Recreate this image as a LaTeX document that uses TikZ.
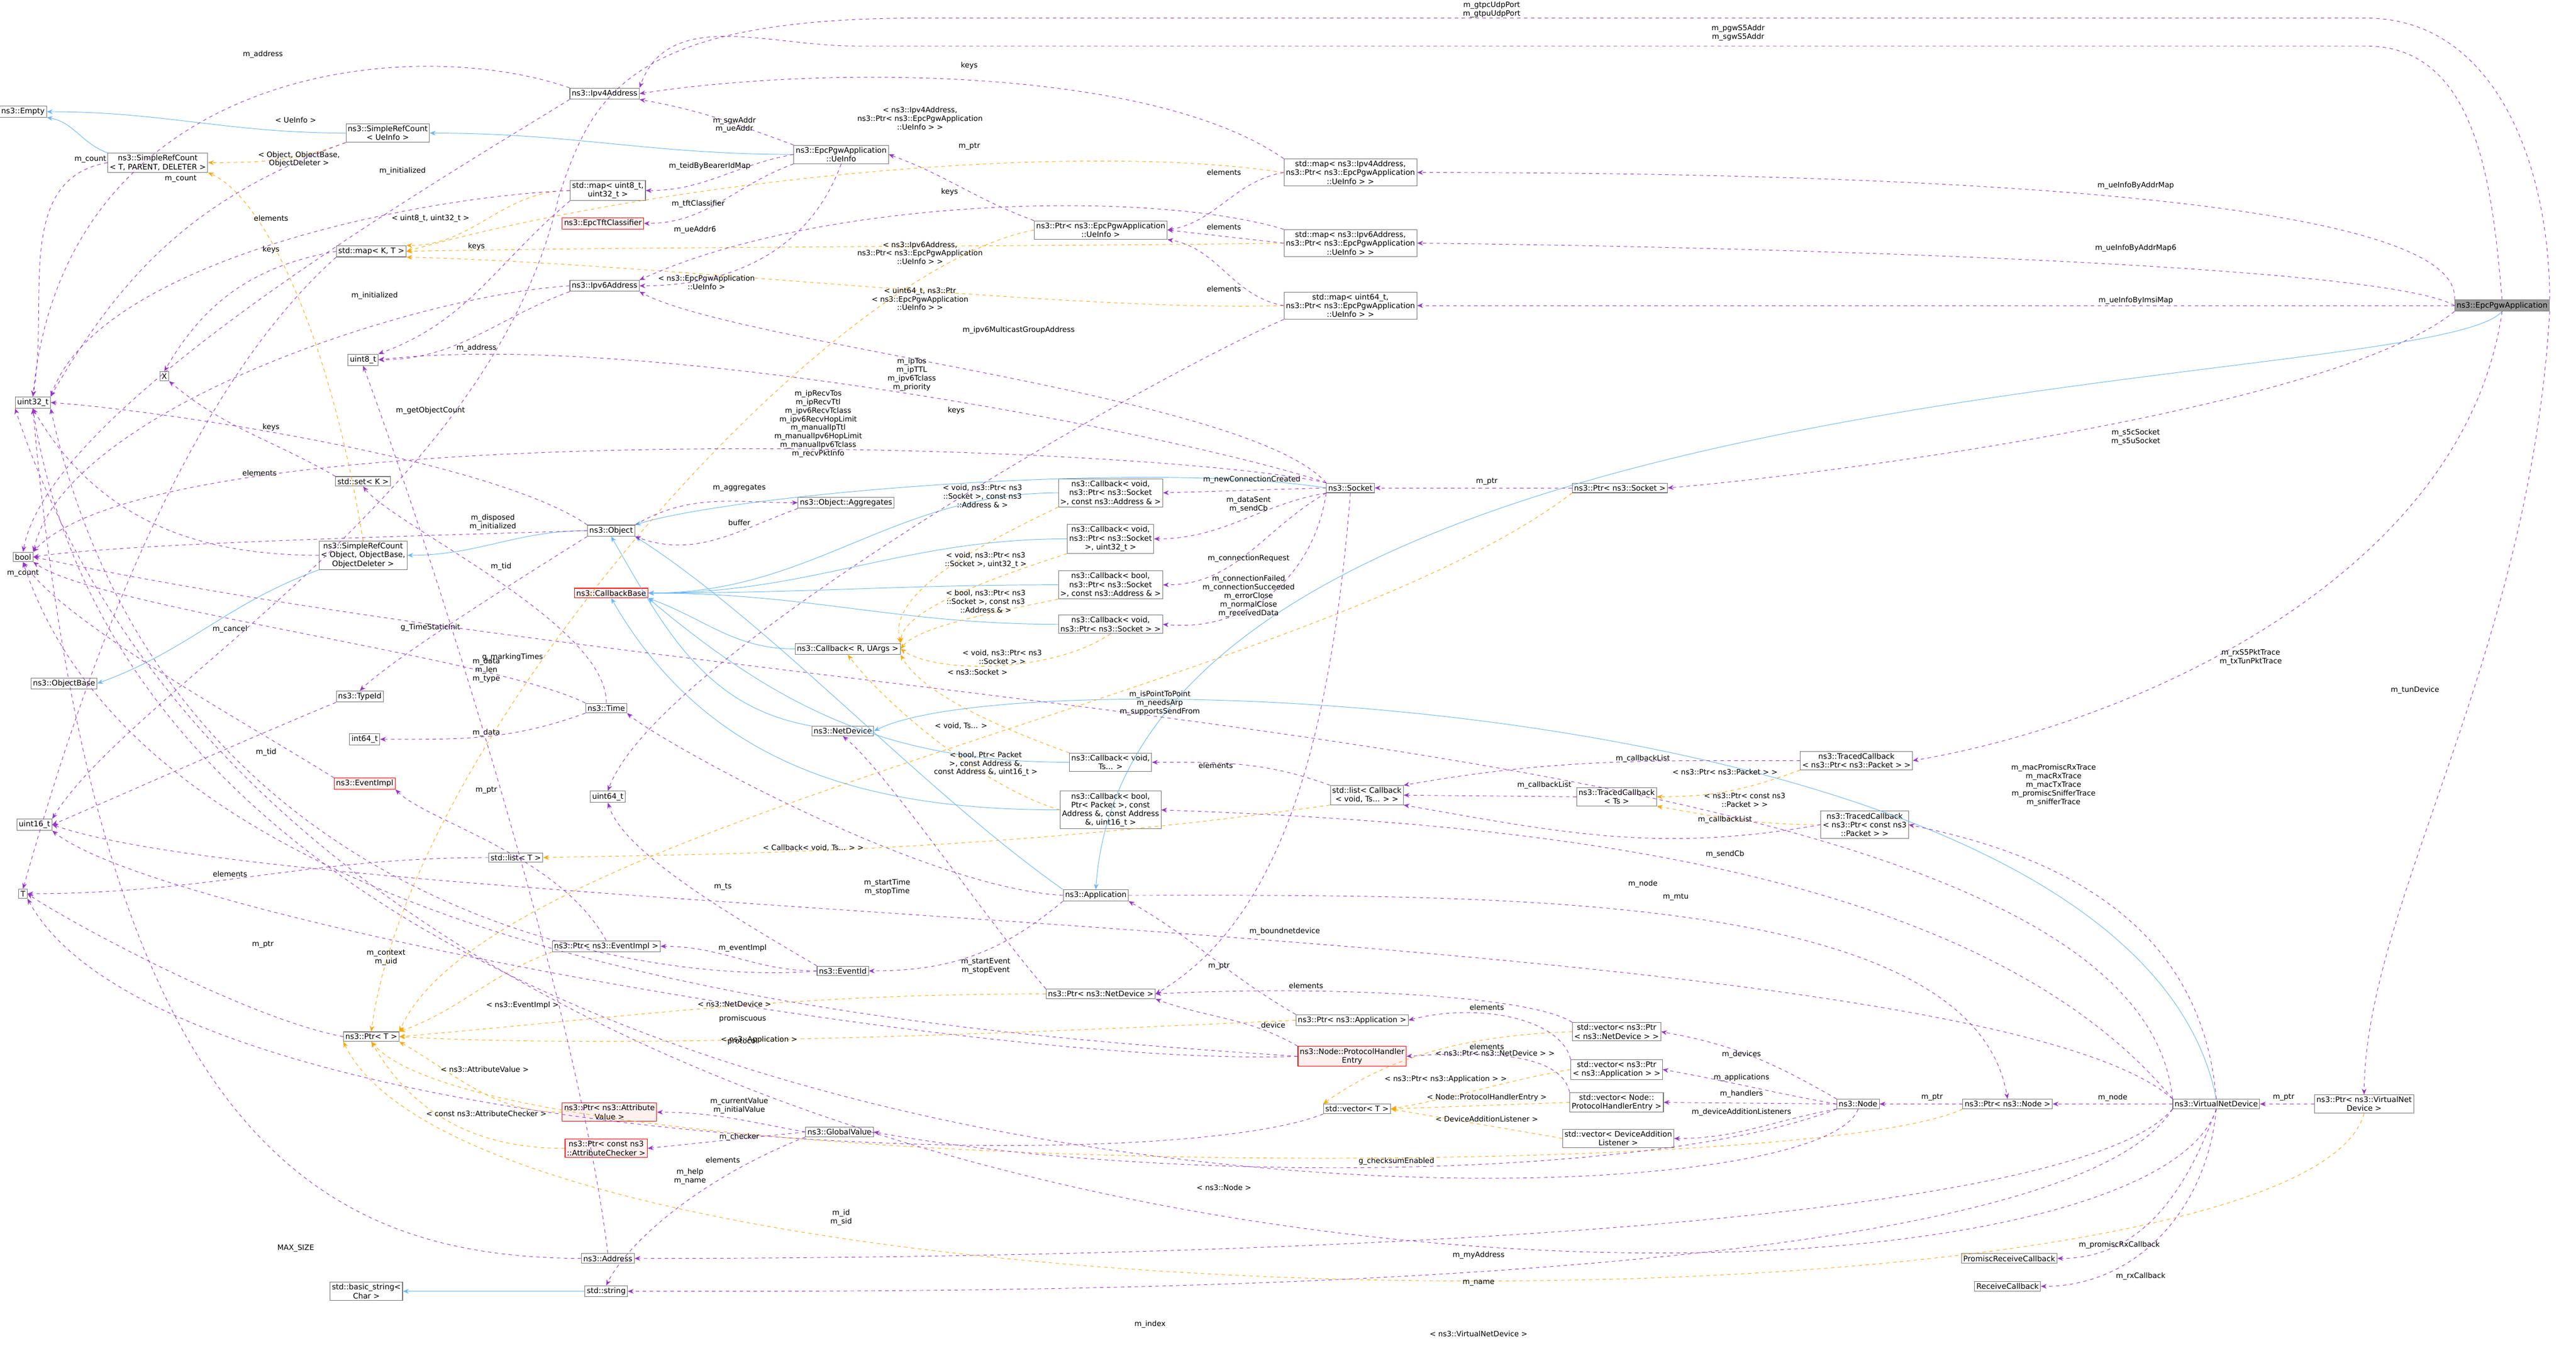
\documentclass[tikz,border=0pt]{standalone}
\usepackage{fontspec}
\setmainfont{DejaVu Sans}
\usetikzlibrary{arrows.meta}
\definecolor{pu}{HTML}{9A32CD}
\definecolor{bl}{HTML}{63B8FF}
\definecolor{or}{HTML}{FFA500}
\tikzset{
 b/.style={draw=black!55,fill=white,inner sep=1.6pt,align=center,font=\fontsize{6.6}{7.6}\selectfont,line width=0.5pt},
 rb/.style={b,draw=red,fill=red!6},
 gb/.style={b,fill=black!40},
 lbl/.style={font=\fontsize{6.4}{7.4}\selectfont,align=center,inner sep=0pt},
 tip/.style={-{Stealth[length=5pt,width=4pt]}},
 use/.style={tip,pu,dashed,line width=0.45pt},
 inh/.style={tip,bl,line width=0.45pt},
 tpl/.style={tip,or,dashed,line width=0.45pt},
}
\begin{document}
\begin{tikzpicture}[x=0.05cm,y=-0.05cm]
\useasboundingbox (0,0) rectangle (1568,819);
% nodes
\node[gb] (pgw) at (1523,186) {ns3::EpcPgwApplication};
\node[b] (empty) at (14,68) {ns3::Empty};
\node[b] (srcT) at (96,99) {ns3::SimpleRefCount\\< T, PARENT, DELETER >};
\node[b] (srcU) at (236,81) {ns3::SimpleRefCount\\< UeInfo >};
\node[b] (ipv4) at (368,57) {ns3::Ipv4Address};
\node[b] (ueinfo) at (512,94) {ns3::EpcPgwApplication\\::UeInfo};
\node[b] (mapu8) at (370,116) {std::map< uint8\_t,\\ uint32\_t >};
\node[rb] (tft) at (367,136) {ns3::EpcTftClassifier};
\node[b] (mapKT) at (226,153) {std::map< K, T >};
\node[b] (ipv6) at (368,174) {ns3::Ipv6Address};
\node[b] (u8) at (221,219) {uint8\_t};
\node[b] (nX) at (100,229) {X};
\node[b] (u32) at (20,245) {uint32\_t};
\node[b] (setK) at (221,293) {std::set< K >};
\node[b] (bool) at (14,339) {bool};
\node[b] (srcO) at (221,338) {ns3::SimpleRefCount\\< Object, ObjectBase,\\ ObjectDeleter >};
\node[b] (obase) at (39,416) {ns3::ObjectBase};
\node[b] (typeid) at (219,424) {ns3::TypeId};
\node[b] (i64) at (222,450) {int64\_t};
\node[rb] (evimpl) at (222,477) {ns3::EventImpl};
\node[b] (u16) at (21,502) {uint16\_t};
\node[b] (nT) at (14,544) {T};
\node[b] (object) at (372,323) {ns3::Object};
\node[b] (aggr) at (515,306) {ns3::Object::Aggregates};
\node[rb] (cbbase) at (372,361) {ns3::CallbackBase};
\node[b] (cbR) at (516,395) {ns3::Callback< R, UArgs >};
\node[b] (time) at (369,431) {ns3::Time};
\node[b] (u64) at (370,485) {uint64\_t};
\node[b] (netdev) at (513,445) {ns3::NetDevice};
\node[b] (listT) at (314,522) {std::list< T >};
\node[b] (ptrEv) at (369,576) {ns3::Ptr< ns3::EventImpl >};
\node[b] (evid) at (513,591) {ns3::EventId};
\node[b] (ptrT) at (226,631) {ns3::Ptr< T >};
\node[rb] (ptrAV) at (371,677) {ns3::Ptr< ns3::Attribute\\Value >};
\node[rb] (ptrAC) at (369,699) {ns3::Ptr< const ns3\\::AttributeChecker >};
\node[b] (gv) at (511,689) {ns3::GlobalValue};
\node[b] (addr) at (370,766) {ns3::Address};
\node[b] (bstr) at (223,786) {std::basic\_string<\\ Char >};
\node[b] (str) at (369,786) {std::string};
\node[b] (cb1) at (676,300) {ns3::Callback< void,\\ ns3::Ptr< ns3::Socket\\ >, const ns3::Address \& >};
\node[b] (cb2) at (676,328) {ns3::Callback< void,\\ ns3::Ptr< ns3::Socket\\ >, uint32\_t >};
\node[b] (cb3) at (676,356) {ns3::Callback< bool,\\ ns3::Ptr< ns3::Socket\\ >, const ns3::Address \& >};
\node[b] (cb4) at (676,380) {ns3::Callback< void,\\ ns3::Ptr< ns3::Socket > >};
\node[b] (cb5) at (676,464) {ns3::Callback< void,\\ Ts... >};
\node[b] (cb6) at (676,493) {ns3::Callback< bool,\\ Ptr< Packet >, const\\ Address \&, const Address\\ \&, uint16\_t >};
\node[b] (app) at (667,545) {ns3::Application};
\node[b] (ptrND) at (670,605) {ns3::Ptr< ns3::NetDevice >};
\node[b] (ptrUe) at (670,140) {ns3::Ptr< ns3::EpcPgwApplication\\::UeInfo >};
\node[b] (map4) at (822,105) {std::map< ns3::Ipv4Address,\\ ns3::Ptr< ns3::EpcPgwApplication\\::UeInfo > >};
\node[b] (map6) at (822,148) {std::map< ns3::Ipv6Address,\\ ns3::Ptr< ns3::EpcPgwApplication\\::UeInfo > >};
\node[b] (map64) at (822,186) {std::map< uint64\_t,\\ ns3::Ptr< ns3::EpcPgwApplication\\::UeInfo > >};
\node[b] (socket) at (822,297) {ns3::Socket};
\node[b] (ptrSo) at (986,297) {ns3::Ptr< ns3::Socket >};
\node[b] (ptrApp) at (823,621) {ns3::Ptr< ns3::Application >};
\node[rb] (phe) at (823,643) {ns3::Node::ProtocolHandler\\Entry};
\node[b] (listCb) at (832,484) {std::list< Callback\\< void, Ts... > >};
\node[b] (tcP) at (1130,463) {ns3::TracedCallback\\< ns3::Ptr< ns3::Packet > >};
\node[b] (tcTs) at (984,485) {ns3::TracedCallback\\< Ts >};
\node[b] (tcC) at (1135,502) {ns3::TracedCallback\\< ns3::Ptr< const ns3\\::Packet > >};
\node[b] (vecT) at (826,675) {std::vector< T >};
\node[b] (vecND) at (984,628) {std::vector< ns3::Ptr\\< ns3::NetDevice > >};
\node[b] (vecApp) at (984,651) {std::vector< ns3::Ptr\\< ns3::Application > >};
\node[b] (vecPHE) at (984,671) {std::vector< Node::\\ProtocolHandlerEntry >};
\node[b] (vecDAL) at (985,693) {std::vector< DeviceAddition\\Listener >};
\node[b] (node) at (1131,672) {ns3::Node};
\node[b] (ptrNode) at (1222,672) {ns3::Ptr< ns3::Node >};
\node[b] (vnd) at (1349,672) {ns3::VirtualNetDevice};
\node[b] (ptrVnd) at (1439,672) {ns3::Ptr< ns3::VirtualNet\\Device >};
\node[b] (prcb) at (1223,766) {PromiscReceiveCallback};
\node[b] (rcb) at (1222,783) {ReceiveCallback};
% inheritance
\draw[inh] (srcU.west) to[out=180,in=0] (empty.east);
\draw[inh] (srcT.north west) to[out=160,in=-10] (empty.south east);
\draw[inh] (ueinfo.west) to[out=180,in=0] (srcU.east);
\draw[inh] (srcO.south west) to[out=200,in=20] (obase.east);
\draw[inh] (object.west) to[out=180,in=0] (srcO.east);
\draw[inh] (socket.west) .. controls (700,280) and (450,300) .. (object.north east);
\draw[inh] (app.north west) .. controls (560,480) and (470,380) .. (object.south east);
\draw[inh] (netdev.north west) to[out=170,in=-60] (object.south);
\draw[inh] (vnd.north) .. controls (1300,420) and (620,400) .. (netdev.east);
\draw[inh] (pgw.south) .. controls (1480,240) and (690,220) .. (app.north);
\draw[inh] (cb1.west) to[out=180,in=0] (cbbase.east);
\draw[inh] (cb2.west) to[out=180,in=0] (cbbase.east);
\draw[inh] (cb3.west) to[out=180,in=0] (cbbase.east);
\draw[inh] (cb4.west) to[out=180,in=0] (cbbase.east);
\draw[inh] (cbR.west) to[out=180,in=-20] (cbbase.south east);
\draw[inh] (cb5.west) to[out=180,in=-40] (cbbase.south east);
\draw[inh] (cb6.west) to[out=180,in=-60] (cbbase.south);
\draw[inh] (str.west) -- (bstr.east);
% templates
\draw[tpl] (srcU.south west) to[out=200,in=0] (srcT.east);
\node[lbl] at (180,73) {< UeInfo >};
\draw[tpl] (srcO.north) .. controls (200,200) and (160,120) .. (srcT.south east);
\node[lbl] at (182,97) {< Object, ObjectBase,\\ObjectDeleter >};
\draw[tpl] (mapu8.west) to[out=180,in=0] (mapKT.north east);
\node[lbl] at (262,133) {< uint8\_t, uint32\_t >};
\draw[tpl] (map4.west) .. controls (650,85) and (400,110) .. (mapKT.east);
\node[lbl] at (560,72) {< ns3::Ipv4Address,\\ns3::Ptr< ns3::EpcPgwApplication\\::UeInfo > >};
\draw[tpl] (map6.west) .. controls (650,150) and (400,150) .. (mapKT.east);
\node[lbl] at (560,154) {< ns3::Ipv6Address,\\ns3::Ptr< ns3::EpcPgwApplication\\::UeInfo > >};
\draw[tpl] (map64.west) .. controls (650,190) and (400,160) .. (mapKT.south east);
\node[lbl] at (560,182) {< uint64\_t, ns3::Ptr\\< ns3::EpcPgwApplication\\::UeInfo > >};
\draw[tpl] (ptrUe.west) .. controls (500,165) and (250,450) .. (ptrT.north);
\node[lbl] at (430,172) {< ns3::EpcPgwApplication\\::UeInfo >};
\draw[tpl] (cb1.south west) .. controls (600,330) and (540,360) .. (cbR.north east);
\node[lbl] at (598,302) {< void, ns3::Ptr< ns3\\::Socket >, const ns3\\::Address \& >};
\draw[tpl] (cb2.south west) .. controls (610,350) and (550,370) .. (cbR.north east);
\node[lbl] at (600,341) {< void, ns3::Ptr< ns3\\::Socket >, uint32\_t >};
\draw[tpl] (cb3.south west) .. controls (620,370) and (560,380) .. (cbR.east);
\node[lbl] at (600,366) {< bool, ns3::Ptr< ns3\\::Socket >, const ns3\\::Address \& >};
\draw[tpl] (cb4.south) .. controls (640,410) and (570,410) .. (cbR.east);
\node[lbl] at (610,400) {< void, ns3::Ptr< ns3\\::Socket > >};
\draw[tpl] (cb5.north west) .. controls (600,440) and (560,420) .. (cbR.south east);
\node[lbl] at (585,442) {< void, Ts... >};
\draw[tpl] (cb6.west) .. controls (600,480) and (540,430) .. (cbR.south);
\node[lbl] at (600,465) {< bool, Ptr< Packet\\ >, const Address \&,\\ const Address \&, uint16\_t >};
\draw[tpl] (ptrSo.south west) .. controls (800,420) and (300,500) .. (ptrT.north east);
\node[lbl] at (595,409) {< ns3::Socket >};
\draw[tpl] (listCb.south west) .. controls (600,520) and (420,520) .. (listT.east);
\node[lbl] at (495,516) {< Callback< void, Ts... > >};
\draw[tpl] (tcP.south west) to[out=200,in=0] (tcTs.east);
\node[lbl] at (1050,470) {< ns3::Ptr< ns3::Packet > >};
\draw[tpl] (tcC.west) to[out=180,in=-10] (tcTs.south east);
\node[lbl] at (1062,487) {< ns3::Ptr< const ns3\\::Packet > >};
\draw[tpl] (ptrEv.south west) to[out=200,in=20] (ptrT.north east);
\node[lbl] at (318,612) {< ns3::EventImpl >};
\draw[tpl] (ptrND.west) to[out=180,in=5] (ptrT.east);
\node[lbl] at (447,611) {< ns3::NetDevice >};
\draw[tpl] (ptrApp.west) .. controls (700,625) and (400,640) .. (ptrT.east);
\node[lbl] at (462,633) {< ns3::Application >};
\draw[tpl] (ptrAV.west) to[out=180,in=-30] (ptrT.south east);
\node[lbl] at (295,651) {< ns3::AttributeValue >};
\draw[tpl] (ptrAC.west) to[out=180,in=-60] (ptrT.south);
\node[lbl] at (296,678) {< const ns3::AttributeChecker >};
\draw[tpl] (ptrNode.south west) .. controls (1100,720) and (300,720) .. (ptrT.south);
\node[lbl] at (745,723) {< ns3::Node >};
\draw[tpl] (ptrVnd.south) .. controls (1400,820) and (300,820) .. (ptrT.south west);
\node[lbl] at (900,812) {< ns3::VirtualNetDevice >};
\draw[tpl] (vecND.west) .. controls (900,630) and (850,640) .. (vecT.north west);
\node[lbl] at (910,641) {< ns3::Ptr< ns3::NetDevice > >};
\draw[tpl] (vecApp.west) to[out=190,in=10] (vecT.east);
\node[lbl] at (880,657) {< ns3::Ptr< ns3::Application > >};
\draw[tpl] (vecPHE.west) -- (vecT.east);
\node[lbl] at (905,668) {< Node::ProtocolHandlerEntry >};
\draw[tpl] (vecDAL.west) to[out=170,in=-10] (vecT.east);
\node[lbl] at (905,681) {< DeviceAdditionListener >};
% usage from pgw
\draw[use] (pgw.north west) .. controls (1500,110) and (1050,105) .. (map4.east);
\node[lbl] at (1300,113) {m\_ueInfoByAddrMap};
\draw[use] (pgw.west) .. controls (1450,160) and (1050,150) .. (map6.east);
\node[lbl] at (1300,151) {m\_ueInfoByAddrMap6};
\draw[use] (pgw.west) -- (map64.east);
\node[lbl] at (1300,183) {m\_ueInfoByImsiMap};
\draw[use] (pgw.south west) .. controls (1420,250) and (1100,290) .. (ptrSo.east);
\node[lbl] at (1300,266) {m\_s5cSocket\\m\_s5uSocket};
\draw[use] (pgw.south) .. controls (1500,350) and (1300,440) .. (tcP.east);
\node[lbl] at (1370,400) {m\_rxS5PktTrace\\m\_txTunPktTrace};
\draw[use] (pgw.south east) .. controls (1540,400) and (1440,550) .. (ptrVnd.north);
\node[lbl] at (1470,420) {m\_tunDevice};
\draw[use] (pgw.north) to[out=95,in=0] (1440,28) -- (520,28) to[out=180,in=70] (ipv4.north east);
\node[lbl] at (1058,20) {m\_pgwS5Addr\\m\_sgwS5Addr};
\draw[use] (pgw.north east) to[out=90,in=0] (1440,11) -- (560,11) .. controls (380,11) and (360,60) .. (340,120) .. controls (300,300) and (80,420) .. (u16.north east);
\node[lbl] at (908,6) {m\_gtpcUdpPort\\m\_gtpuUdpPort};
% ueinfo etc
\draw[use] (ueinfo.north west) to[out=160,in=-10] (ipv4.south east);
\node[lbl] at (447,76) {m\_sgwAddr\\m\_ueAddr};
\draw[use] (ueinfo.west) to[out=190,in=0] (mapu8.east);
\node[lbl] at (432,101) {m\_teidByBearerIdMap};
\draw[use] (ueinfo.south west) to[out=200,in=0] (tft.east);
\node[lbl] at (425,124) {m\_tftClassifier};
\draw[use] (ueinfo.south) to[out=-110,in=0] (ipv6.east);
\node[lbl] at (423,140) {m\_ueAddr6};
\draw[use] (ptrUe.north west) to[out=160,in=-20] (ueinfo.east);
\node[lbl] at (590,89) {m\_ptr};
\draw[use] (map4.west) to[out=190,in=10] (ptrUe.east);
\node[lbl] at (745,105) {elements};
\draw[use] (map6.west) -- (ptrUe.east);
\node[lbl] at (745,138) {elements};
\draw[use] (map64.west) to[out=170,in=-10] (ptrUe.south east);
\node[lbl] at (745,176) {elements};
\draw[use] (map4.north west) .. controls (700,40) and (500,40) .. (ipv4.east);
\node[lbl] at (590,40) {keys};
\draw[use] (map6.north west) .. controls (700,115) and (500,120) .. (ipv6.north east);
\node[lbl] at (578,117) {keys};
\draw[use] (map64.south west) .. controls (700,230) and (400,400) .. (u64.north);
\node[lbl] at (582,250) {keys};
\draw[use] (srcT.west) to[out=190,in=80] (u32.north);
\node[lbl] at (55,97) {m\_count};
\draw[use] (srcU.south west) to[out=200,in=60] (u32.north east);
\node[lbl] at (110,109) {m\_count};
\draw[use] (srcO.west) to[out=180,in=-60] (u32.south);
\node[lbl] at (14,349) {m\_count};
\draw[use] (ipv4.north west) .. controls (250,20) and (40,40) .. (u32.north);
\node[lbl] at (160,33) {m\_address};
\draw[use] (ipv4.south west) .. controls (250,120) and (30,250) .. (bool.north);
\node[lbl] at (245,104) {m\_initialized};
\draw[use] (ipv6.south west) to[out=200,in=0] (u8.east);
\node[lbl] at (290,212) {m\_address};
\draw[use] (ipv6.west) .. controls (250,180) and (40,250) .. (bool.north east);
\node[lbl] at (228,180) {m\_initialized};
\draw[use] (mapu8.south west) to[out=220,in=20] (u8.north east);
\node[lbl] at (290,150) {keys};
\draw[use] (mapu8.west) .. controls (250,120) and (60,160) .. (u32.north east);
\node[lbl] at (165,133) {elements};
\draw[use] (mapKT.west) to[out=190,in=60] (nX.north);
\node[lbl] at (165,152) {keys};
\draw[use] (mapKT.south west) .. controls (100,250) and (40,450) .. (nT.north);
\node[lbl] at (158,288) {elements};
\draw[use] (setK.north west) to[out=150,in=-40] (nX.south east);
\node[lbl] at (165,260) {keys};
% socket
\draw[use] (socket.west) -- (cb1.east);
\node[lbl] at (762,292) {m\_newConnectionCreated};
\draw[use] (socket.south west) to[out=190,in=0] (cb2.east);
\node[lbl] at (760,307) {m\_dataSent\\m\_sendCb};
\draw[use] (socket.south west) to[out=210,in=0] (cb3.east);
\node[lbl] at (760,340) {m\_connectionRequest};
\draw[use] (socket.south west) .. controls (800,350) and (760,385) .. (cb4.east);
\node[lbl] at (760,363) {m\_connectionFailed\\m\_connectionSucceeded\\m\_errorClose\\m\_normalClose\\m\_receivedData};
\draw[use] (socket.north west) .. controls (760,240) and (450,210) .. (ipv6.south east);
\node[lbl] at (620,201) {m\_ipv6MulticastGroupAddress};
\draw[use] (socket.north west) .. controls (740,270) and (400,200) .. (u8.east);
\node[lbl] at (555,228) {m\_ipTos\\m\_ipTTL\\m\_ipv6Tclass\\m\_priority};
\draw[use] (socket.north west) .. controls (700,270) and (100,250) .. (bool.north east);
\node[lbl] at (498,258) {m\_ipRecvTos\\m\_ipRecvTtl\\m\_ipv6RecvTclass\\m\_ipv6RecvHopLimit\\m\_manualIpTtl\\m\_manualIpv6HopLimit\\m\_manualIpv6Tclass\\m\_recvPktInfo};
\draw[use] (socket.south) .. controls (810,450) and (780,560) .. (ptrND.east);
\node[lbl] at (782,567) {m\_boundnetdevice};
\draw[use] (ptrSo.west) -- (socket.east);
\node[lbl] at (905,293) {m\_ptr};
% object
\draw[use] (object.west) .. controls (300,325) and (80,330) .. (bool.east);
\node[lbl] at (300,318) {m\_disposed\\m\_initialized};
\draw[use] (object.north east) to[out=30,in=180] (aggr.west);
\node[lbl] at (450,297) {m\_aggregates};
\draw[use] (aggr.south west) to[out=200,in=-20] (object.south east);
\node[lbl] at (450,318) {buffer};
\draw[use] (object.south west) .. controls (320,350) and (240,400) .. (typeid.north);
\node[lbl] at (305,345) {m\_tid};
\draw[use] (object.north west) .. controls (300,280) and (100,250) .. (u32.east);
\node[lbl] at (262,250) {m\_getObjectCount};
\draw[use] (typeid.south west) .. controls (150,450) and (60,490) .. (u16.east);
\node[lbl] at (162,458) {m\_tid};
\draw[use] (evimpl.north west) .. controls (150,440) and (40,380) .. (bool.south);
\node[lbl] at (140,383) {m\_cancel};
\draw[use] (time.south west) to[out=200,in=0] (i64.east);
\node[lbl] at (296,446) {m\_data};
\draw[use] (time.north west) .. controls (300,400) and (60,370) .. (bool.south east);
\node[lbl] at (262,382) {g\_TimeStaticInit};
\draw[use] (time.north) .. controls (370,380) and (240,320) .. (setK.south);
\node[lbl] at (312,400) {g\_markingTimes};
% events
\draw[use] (evid.west) to[out=180,in=0] (ptrEv.east);
\node[lbl] at (452,577) {m\_eventImpl};
\draw[use] (evid.north west) .. controls (450,560) and (380,520) .. (u64.south);
\node[lbl] at (440,540) {m\_ts};
\draw[use] (evid.west) .. controls (400,600) and (100,560) .. (u32.south east);
\node[lbl] at (235,583) {m\_context\\m\_uid};
\draw[use] (ptrEv.north) .. controls (340,520) and (260,500) .. (evimpl.south east);
\node[lbl] at (296,481) {m\_ptr};
\draw[use] (ptrT.west) .. controls (150,620) and (40,560) .. (nT.east);
\node[lbl] at (160,575) {m\_ptr};
\draw[use] (listT.west) to[out=180,in=0] (nT.east);
\node[lbl] at (140,532) {elements};
\draw[use] (listCb.north west) to[out=160,in=0] (cb5.east);
\node[lbl] at (740,466) {elements};
\draw[use] (tcTs.west) -- (listCb.east);
\node[lbl] at (940,478) {m\_callbackList};
\draw[use] (tcP.west) to[out=180,in=10] (listCb.north east);
\node[lbl] at (1000,462) {m\_callbackList};
\draw[use] (tcC.west) to[out=190,in=-10] (listCb.south east);
\node[lbl] at (1050,499) {m\_callbackList};
% application
\draw[use] (app.west) .. controls (560,540) and (400,450) .. (time.south east);
\node[lbl] at (540,540) {m\_startTime\\m\_stopTime};
\draw[use] (app.south west) to[out=220,in=0] (evid.east);
\node[lbl] at (600,588) {m\_startEvent\\m\_stopEvent};
\draw[use] (app.east) .. controls (900,545) and (1200,540) .. (ptrNode.north);
\node[lbl] at (1000,538) {m\_node};
\draw[use] (ptrND.north west) .. controls (600,560) and (540,470) .. (netdev.south);
\draw[use] (ptrApp.north west) to[out=150,in=-30] (app.south east);
\node[lbl] at (742,588) {m\_ptr};
\draw[use] (phe.north west) to[out=150,in=-20] (ptrND.south east);
\node[lbl] at (775,624) {device};
\draw[use] (phe.west) .. controls (600,630) and (100,600) .. (bool.south);
\node[lbl] at (452,620) {promiscuous};
\draw[use] (phe.west) .. controls (600,650) and (100,560) .. (u16.south east);
\node[lbl] at (452,634) {protocol};
% vectors and node
\draw[use] (vecND.north west) .. controls (930,605) and (800,600) .. (ptrND.east);
\node[lbl] at (795,600) {elements};
\draw[use] (vecApp.north west) .. controls (950,620) and (900,610) .. (ptrApp.east);
\node[lbl] at (905,613) {elements};
\draw[use] (vecPHE.north west) .. controls (950,640) and (900,640) .. (phe.east);
\node[lbl] at (905,637) {elements};
\draw[use] (vecT.south west) .. controls (700,720) and (100,700) .. (nT.south east);
\node[lbl] at (440,706) {elements};
\draw[use] (node.north west) to[out=150,in=-10] (vecND.east);
\node[lbl] at (1060,642) {m\_devices};
\draw[use] (node.west) to[out=170,in=-10] (vecApp.east);
\node[lbl] at (1060,656) {m\_applications};
\draw[use] (node.west) -- (vecPHE.east);
\node[lbl] at (1060,666) {m\_handlers};
\draw[use] (node.south west) to[out=190,in=0] (vecDAL.east);
\node[lbl] at (1060,677) {m\_deviceAdditionListeners};
\draw[use] (node.south west) .. controls (1000,720) and (700,720) .. (gv.east);
\node[lbl] at (850,707) {g\_checksumEnabled};
\draw[use] (node.south) .. controls (1100,760) and (100,760) .. (u32.south);
\node[lbl] at (512,741) {m\_id\\m\_sid};
\draw[use] (ptrNode.west) -- (node.east);
\node[lbl] at (1176,668) {m\_ptr};
% virtual net device
\draw[use] (ptrVnd.west) -- (vnd.east);
\node[lbl] at (1390,668) {m\_ptr};
\draw[use] (vnd.west) -- (ptrNode.east);
\node[lbl] at (1286,668) {m\_node};
\draw[use] (vnd.south west) .. controls (1250,760) and (600,766) .. (addr.east);
\node[lbl] at (900,764) {m\_myAddress};
\draw[use] (vnd.south west) .. controls (1250,790) and (600,786) .. (str.east);
\node[lbl] at (900,781) {m\_name};
\draw[use] (vnd.south) .. controls (1300,830) and (200,830) .. (u32.south west);
\node[lbl] at (700,806) {m\_index};
\draw[use] (vnd.south) to[out=-110,in=0] (prcb.east);
\node[lbl] at (1290,758) {m\_promiscRxCallback};
\draw[use] (vnd.south) to[out=-95,in=0] (rcb.east);
\node[lbl] at (1303,777) {m\_rxCallback};
\draw[use] (vnd.north west) .. controls (1200,560) and (200,560) .. (u16.east);
\node[lbl] at (1020,546) {m\_mtu};
\draw[use] (vnd.north west) .. controls (1300,440) and (500,440) .. (bool.east);
\node[lbl] at (706,428) {m\_isPointToPoint\\m\_needsArp\\m\_supportsSendFrom};
\draw[use] (vnd.north west) .. controls (1200,520) and (900,500) .. (cb6.east);
\node[lbl] at (1050,520) {m\_sendCb};
\draw[use] (vnd.north) .. controls (1340,560) and (1250,520) .. (tcC.east);
\node[lbl] at (1250,478) {m\_macPromiscRxTrace\\m\_macRxTrace\\m\_macTxTrace\\m\_promiscSnifferTrace\\m\_snifferTrace};
% global value
\draw[use] (gv.west) to[out=170,in=0] (ptrAV.east);
\node[lbl] at (450,673) {m\_currentValue\\m\_initialValue};
\draw[use] (gv.west) -- (ptrAC.east);
\node[lbl] at (450,692) {m\_checker};
\draw[use] (gv.south west) .. controls (420,720) and (380,760) .. (str.north);
\node[lbl] at (420,716) {m\_help\\m\_name};
\draw[use] (addr.north) .. controls (350,600) and (250,300) .. (u8.south);
\node[lbl] at (296,408) {m\_data\\m\_len\\m\_type};
\draw[use] (addr.west) .. controls (200,765) and (60,700) .. (u32.south);
\node[lbl] at (180,760) {MAX\_SIZE};
\end{tikzpicture}
\end{document}
